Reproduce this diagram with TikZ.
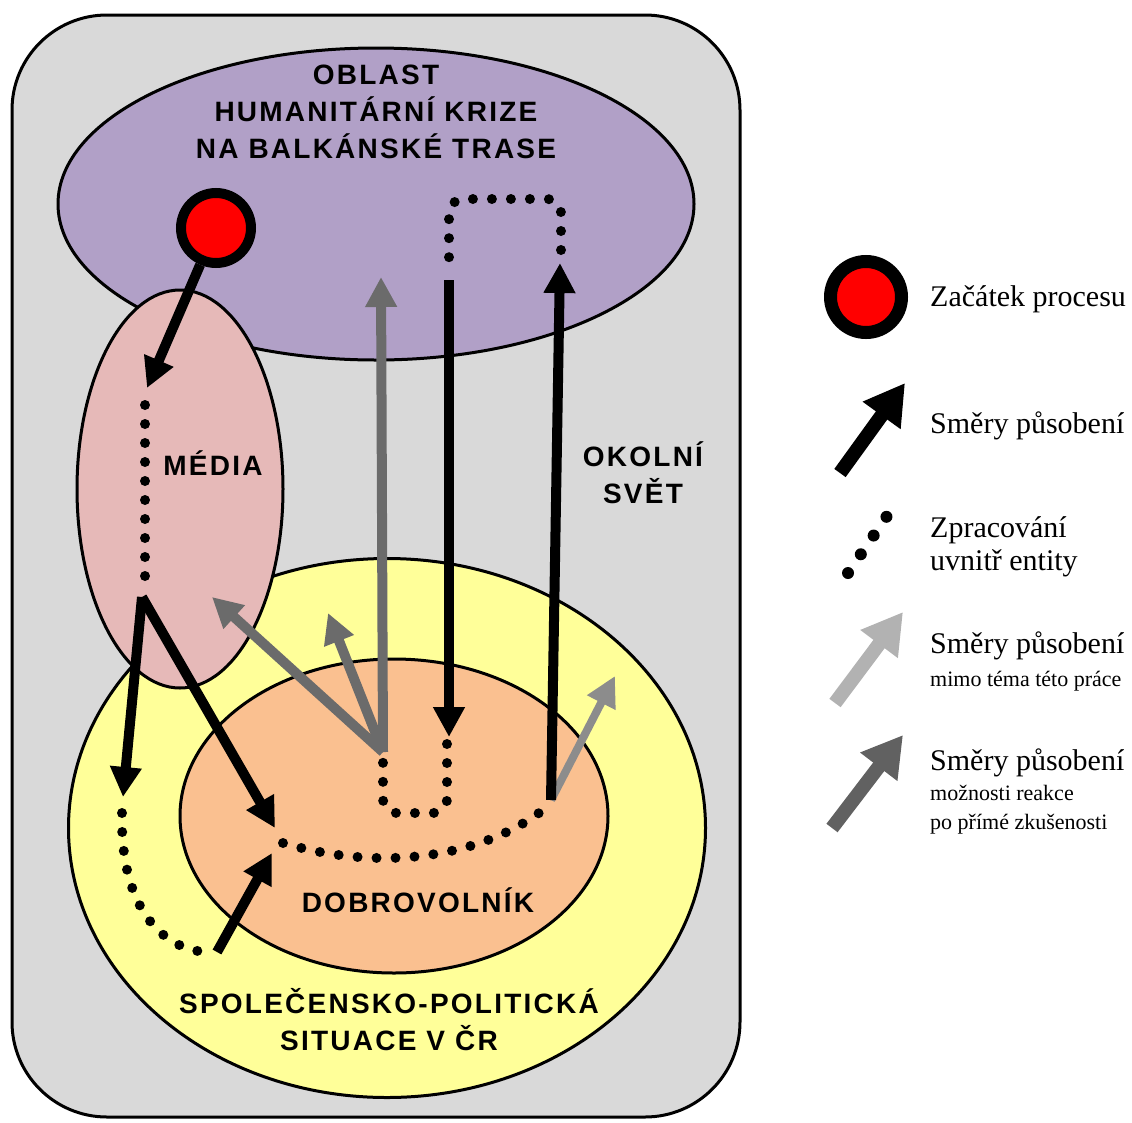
\documentclass[tikz,border=0pt]{standalone}
\usepackage{fontspec}
\setmainfont{Liberation Serif}
\newfontfamily\capsfont[LetterSpace=8]{Liberation Sans}
\usetikzlibrary{arrows.meta,shapes.geometric}
\definecolor{okoli}{HTML}{D9D9D9}
\definecolor{krizefill}{HTML}{B1A0C7}
\definecolor{mediafill}{HTML}{E6B9B8}
\definecolor{spolfill}{HTML}{FFFF99}
\definecolor{dobrfill}{HTML}{FAC090}

\begin{document}
\begin{tikzpicture}[x=1pt,y=-1pt,
  area/.style={ellipse,draw,line width=3pt,inner sep=0pt},
  caps/.style={font=\capsfont\bfseries\fontsize{28}{37}\selectfont,align=center,inner sep=0pt},
  legtext/.style={font=\fontsize{30}{34}\selectfont,anchor=base west,inner sep=0pt},
  legsmall/.style={font=\fontsize{22}{26}\selectfont,anchor=base west,inner sep=0pt},
  startdot/.style={circle,draw=black,fill=red,inner sep=0pt},
  flow/.style={line width=10pt,-{Triangle[length=30pt,width=30pt]}},
  proc/.style={line width=10pt,line cap=round,dash pattern=on 0pt off 19pt},
  reakce/.style={flow,draw=black!58},
  mimo/.style={flow,draw=black!45,line width=8pt}]
\useasboundingbox (0,0) rectangle (1132,1122);
\draw[fill=okoli,line width=3pt,rounded corners=95pt] (12,15) rectangle (740,1117);

\node[area,fill=spolfill,minimum width=637pt,minimum height=539pt] (spol) at (387,828) {};
\node[area,fill=dobrfill,minimum width=428pt,minimum height=314pt] (dobr) at (394,816) {};
\node[area,fill=krizefill,minimum width=636pt,minimum height=312pt] (krize) at (376,204) {};
\node[area,fill=mediafill,minimum width=206pt,minimum height=398pt] (media) at (180,489) {};

\node[caps] (krizeLbl) at (376,112) {OBLAST\\HUMANITÁRNÍ KRIZE\\NA BALKÁNSKÉ TRASE};
\node[caps,anchor=base] (mediaLbl) at (213,475) {MÉDIA};
\node[caps] (okoliLbl) at (643,473) {OKOLNÍ\\SVĚT};
\node[caps,anchor=base] (dobrLbl) at (418,912) {DOBROVOLNÍK};
\node[caps] (spolLbl) at (389,1020) {SPOLEČENSKO-POLITICKÁ\\SITUACE V ČR};

\node[startdot,line width=10pt,minimum size=70pt] (start) at (216,228) {};
\coordinate (mediaIn) at (147,388);
\coordinate (mediaOut) at (142,597);
\coordinate (spolIn) at (123,797);
\coordinate (dobrIn) at (275,828);
\coordinate (spolOut) at (217,952);
\coordinate (dobrIn2) at (272,853);
\coordinate (dobrOut) at (551,800);
\coordinate (krizeIn) at (560,263);
\coordinate (krizeOut) at (449,280);
\coordinate (dobrIn3) at (449,737);
\coordinate (reakce) at (383,752);
\coordinate (reakceA) at (381,277);
\coordinate (reakceB) at (212,597);
\coordinate (reakceC) at (328,613);
\coordinate (mimoA) at (615,676);

\draw[flow] (start) -- (mediaIn);
\draw[proc] (145,405) -- (145,585);
\draw[flow] (mediaOut) -- (spolIn);
\draw[flow] (mediaOut) -- (dobrIn);
\draw[proc] (122,813) .. controls (120,905) and (160,948) .. (205,952);
\draw[flow] (spolOut) -- (dobrIn2);
\draw[proc] (283,843) .. controls (380,872) and (480,858) .. (543,810);
\draw[reakce] (reakce) -- (reakceA);
\draw[reakce] (reakce) -- (reakceB);
\draw[reakce] (reakce) -- (reakceC);
\draw[mimo] (dobrOut) -- (mimoA);
\draw[flow] (dobrOut) -- (krizeIn);
\draw[proc,rounded corners=14pt] (561,250) -- (561,199) -- (449,199) -- (449,265);
\draw[flow] (krizeOut) -- (dobrIn3);
\draw[proc,rounded corners=14pt] (447,744) -- (447,813) -- (383,813) -- (383,760);

\node[startdot,line width=13pt,minimum size=71pt] (legStart) at (866,297) {};
\node[legtext] (legStartLbl) at (930,306) {Začátek procesu};
\coordinate (legFlowA) at (840,473);
\coordinate (legFlowB) at (905,383);
\draw[line width=14pt,-{Triangle[length=40pt,width=44pt]}] (legFlowA) -- (legFlowB);
\node[legtext] (legFlowLbl) at (930,433) {Směry působení};
\coordinate (legProcA) at (848,573);
\coordinate (legProcB) at (887,516);
\draw[line width=12pt,line cap=round,dash pattern=on 0pt off 22.7pt] (legProcA) -- (legProcB);
\node[legtext] (legProcLbl) at (930,537) {Zpracování};
\node[legtext] (legProcLbl2) at (930,570) {uvnitř entity};
\coordinate (legMimoA) at (835,703);
\coordinate (legMimoB) at (903,612);
\draw[line width=14pt,draw=black!30,-{Triangle[length=40pt,width=44pt]}] (legMimoA) -- (legMimoB);
\node[legtext] (legMimoLbl) at (930,653) {Směry působení};
\node[legsmall] (legMimoLbl2) at (930,686) {mimo téma této práce};
\coordinate (legReakceA) at (832,828);
\coordinate (legReakceB) at (903,735);
\draw[line width=14pt,draw=black!62,-{Triangle[length=40pt,width=44pt]}] (legReakceA) -- (legReakceB);
\node[legtext] (legReakceLbl) at (930,770) {Směry působení};
\node[legsmall] (legReakceLbl2) at (930,800) {možnosti reakce};
\node[legsmall] (legReakceLbl3) at (930,829) {po přímé zkušenosti};
\end{tikzpicture}
\end{document}
